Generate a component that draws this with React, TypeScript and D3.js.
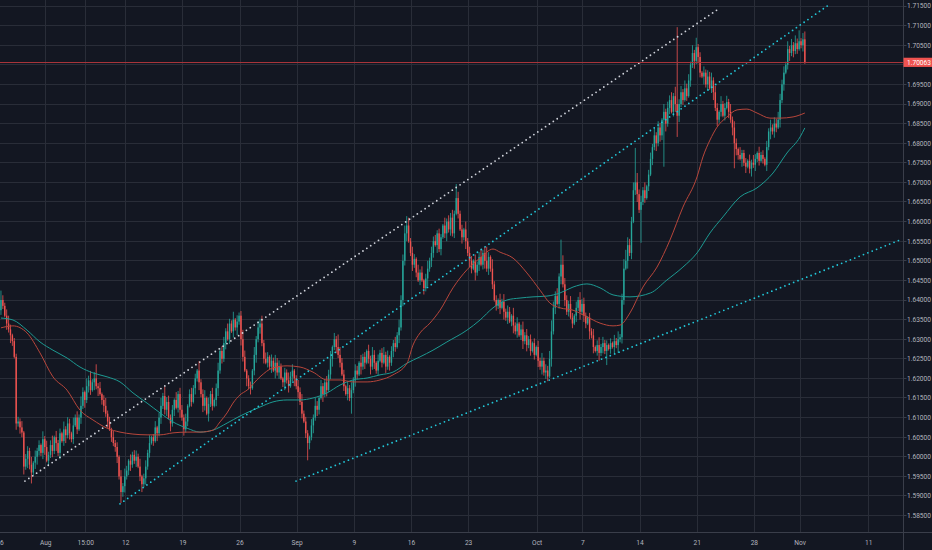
import { useEffect, useRef } from 'react';
import * as d3 from 'd3';

const W = 932;
const H = 550;

// 4h closes, pips (0.0001) above 1.5800, ten candles per row
const closePips = [
  600, 585, 560, 540, 525, 510, 495, 455, 285, 290,
  275, 262, 175, 195, 215, 180, 160, 185, 200, 215,
  230, 210, 245, 225, 190, 205, 230, 215, 250, 235,
  210, 260, 240, 270, 255, 285, 260, 245, 280, 300,
  270, 300, 330, 365, 345, 380, 395, 370, 390, 400,
  380, 375, 360, 345, 330, 310, 290, 270, 250, 235,
  225, 200, 150, 110, 125, 150, 165, 190, 180, 205,
  190, 200, 175, 150, 130, 145, 175, 210, 235, 250,
  240, 275, 260, 300, 330, 355, 320, 340, 300, 285,
  320, 345, 325, 360, 320, 300, 270, 290, 330, 360,
  340, 375, 400, 420, 390, 360, 330, 350, 310, 335,
  360, 330, 345, 375, 420, 470, 450, 490, 520, 500,
  540, 520, 550, 530, 545, 560, 500, 455, 420, 400,
  380, 375, 420, 460, 500, 530, 540, 490, 450, 440,
  455, 430, 445, 420, 440, 415, 430, 400, 390, 415,
  395, 380, 405, 420, 400, 380, 365, 340, 310, 290,
  260, 235, 250, 280, 300, 330, 320, 350, 380, 360,
  390, 370, 410, 450, 480, 500, 480, 460, 440, 410,
  380, 360, 375, 350, 370, 395, 420, 410, 440, 430,
  455, 440, 470, 450, 430, 460, 440, 420, 445, 465,
  440, 460, 430, 455, 440, 470, 490, 480, 510, 530,
  600, 700, 770, 790, 750, 720, 690, 705, 670, 650,
  670, 650, 630, 655, 680, 700, 720, 750, 740, 770,
  730, 760, 790, 770, 800, 780, 810, 770, 820, 860,
  820, 780, 760, 780, 750, 720, 700, 680, 700, 670,
  690, 710, 690, 720, 700, 680, 710, 680, 640, 600,
  585, 600, 580, 595, 570, 555, 570, 545, 560, 535,
  520, 540, 510, 525, 495, 510, 485, 500, 470, 490,
  460, 480, 445, 430, 445, 415, 420, 405, 450, 520,
  580, 610, 590, 660, 690, 640, 600, 570, 590, 555,
  540, 560, 580, 600, 570, 590, 560, 540, 555, 520,
  510, 480, 470, 485, 465, 480, 490, 470, 485, 475,
  490, 480, 495, 485, 500, 505, 600, 680, 700, 740,
  720, 800, 880, 900, 870, 830, 850, 880, 860, 890,
  920, 960, 990, 1020, 1000, 1040, 1020, 1060, 1080, 1050,
  1090, 1110, 1080, 1120, 1100, 1070, 1100, 1130, 1110, 1140,
  1120, 1160, 1200, 1230, 1210, 1245, 1220, 1180, 1170, 1180,
  1150, 1170, 1140, 1160, 1130, 1090, 1060, 1080, 1100, 1070,
  1090, 1105, 1080, 1060, 1040, 1000, 985, 970, 960, 975,
  950, 940, 955, 935, 950, 945, 960, 975, 955, 970,
  960, 945, 990, 1030, 1040, 1030, 1050, 1040, 1060, 1110,
  1150, 1180, 1200, 1240, 1230, 1250, 1235, 1255, 1240, 1260,
  1250, 1265, 1206.3,
];
const firstOpenPips = 574;

// wick lengths, one base-36 char per candle, in steps of 4 pips
const upperWicks = [
  '6324531223', '2413325142', '3152423614', '2315243152', '4263153624',
  '9241352314', '2314253142', '3425134251', '2413526342', '3152432513',
  '4231623514', '2413523425', '3251423641', '2315243524', '3142534213',
  '2534124352', '3214253142', '2435142853', '3142524315', '2314253142',
  '3524132425', '3456524315', '2413524342', '3215243529', '4231524314',
  '2352493162', '3142524315', '2413524231', '3142524357', '4352g64325',
  '3142534213', '2413524231', '3142524675', '435m634251', '3425243152',
  '4352603425', '3425262314', '2435243152', '3425243152', '2314253142',
  '3142524354', '3425242537', '245',
].join('');
const lowerWicks = [
  '3214253142', '4352637245', '3245132425', '2413524231', '3142524315',
  '2513424132', '3427342342', '2413524231', '3152423415', '2413524231',
  '3142524315', '2314523241', '3142524315', '2413524231', '3241524135',
  '2413524231', '3b42524315', '2413524231', '3142a24315', '2413524231',
  '3142524315', '2435124231', '3142524315', '2413524231', '3142524315',
  '2413524231', '3241524135', '2413524231', '3142524315', '2413524231',
  '3142524315', '2413524291', '3142524315', '241352l231', '31425243u5',
  '2413524231', '3142524315', '2413524231', '31425g4315', '2413524231',
  '3142524315', '2413524231', '241',
].join('');
// [candle, high, low] in pips, for wicks too long for the strings
const spikes = [[355, 1296, 1016]];

// moving averages: candle index and pips
const fastMaIdx = [0, 6.3, 13.7, 20.5, 27.3, 34.7, 41.5, 48.3, 55.7, 62.5, 69.3, 76.7, 83.5, 90.3, 97.7, 104.5, 111.3, 115, 118.7, 121.8, 125.5, 129.2, 136, 142.8, 150.2, 157, 163.8, 171.2, 178, 184.8, 192.2, 199, 205.8, 213.2, 216.3, 220, 225.2, 230.5, 237.3, 244.6, 251.5, 258.3, 262, 268.8, 276.1, 283, 288.2, 293.5, 300.3, 307.6, 314.5, 321.3, 325, 330.2, 337, 344.4, 351.2, 358, 365.4, 368.5, 372.2, 375.9, 381.1, 386.4, 391.6, 396.9, 403.7, 409, 415.8, 422];
const fastMaPips = [529, 534, 516, 465, 404, 370, 319, 294, 273, 263, 258, 256, 256, 261, 263, 263, 268, 289, 312, 337, 358, 370, 404, 427, 432, 429, 416, 396, 396, 391, 391, 396, 409, 439, 485, 516, 541, 574, 631, 677, 707, 730, 722, 707, 669, 625, 592, 580, 574, 557, 541, 534, 536, 567, 633, 684, 753, 837, 914, 965, 1008, 1041, 1067, 1085, 1087, 1077, 1064, 1064, 1067, 1077];
const slowMaIdx = [0, 6.3, 13.7, 20.5, 27.3, 34.7, 41.5, 48.3, 55.7, 62.5, 69.3, 76.7, 83.5, 90.3, 97.7, 104.5, 111.3, 118.7, 125.5, 136, 142.8, 150.2, 157, 163.8, 171.2, 178, 184.8, 192.2, 199, 205.8, 213.2, 220, 226.8, 234.1, 244.6, 251.5, 258.3, 265.6, 272.5, 279.3, 286.6, 293.5, 300.3, 307.6, 314.5, 321.3, 330.2, 341, 349.6, 358, 365.4, 372.2, 379, 388, 396.9, 405.3, 412.6, 419.5, 422];
const slowMaPips = [554, 549, 523, 493, 472, 452, 429, 414, 404, 391, 363, 337, 312, 289, 273, 263, 268, 286, 304, 327, 340, 345, 345, 350, 363, 383, 396, 401, 409, 416, 439, 455, 472, 493, 523, 549, 580, 600, 605, 608, 610, 618, 633, 641, 631, 613, 608, 618, 651, 684, 720, 771, 812, 863, 886, 924, 975, 1016, 1039];

// drawn trend lines: [candle index, pips] at each end
const trendStart = [[12.6, 138], [62.5, 80], [154.9, 138]];
const trendEnd = [[375.9, 1340], [435.2, 1355], [471.9, 753]];

const timeTickIdx = [0, 24, 45, 66, 96, 126, 156, 186, 216, 246, 282, 306, 336, 366, 396, 420, 456];
const timeLabels = ['26', 'Aug', '15:00', '12', '19', '26', 'Sep', '9', '16', '23', 'Oct', '7', '14', '21', '28', 'Nov', '11'];
const priceTicks = [1.585, 1.59, 1.595, 1.6, 1.605, 1.61, 1.615, 1.62, 1.625, 1.63, 1.635, 1.64, 1.645, 1.65, 1.655, 1.66, 1.665, 1.67, 1.675, 1.68, 1.685, 1.69, 1.695, 1.7, 1.705, 1.71, 1.715];
const lastPrice = 1.70063;

const fromPips = (p: number) => 1.58 + p / 10000;

export default function App() {
  const ref = useRef<SVGSVGElement>(null);

  useEffect(() => {
    if (!ref.current) return;
    const svg = d3.select(ref.current);
    svg.selectAll('*').remove();

    const plotRight = 903.5;
    const plotBottom = 532.5;
    const font = 'Roboto, "Noto Sans", sans-serif';

    const x = d3.scaleLinear().domain([0, 423]).range([0, 805.8]);
    const y = d3.scaleLinear().domain([1.585, 1.715]).range([515.6, 6]);
    const crisp = (v: number) => Math.round(v - 0.5) + 0.5;

    svg.append('rect').attr('width', W).attr('height', H).attr('fill', '#131722');

    const plot = svg.append('g');
    plot.append('clipPath').attr('id', 'plot-clip')
      .append('rect').attr('width', plotRight).attr('height', plotBottom);
    const clipped = plot.append('g').attr('clip-path', 'url(#plot-clip)');

    // grid
    const grid = clipped.append('g').attr('stroke', '#292d38').attr('stroke-width', 1);
    priceTicks.forEach((p) => {
      grid.append('line').attr('x1', 0).attr('x2', plotRight)
        .attr('y1', crisp(y(p))).attr('y2', crisp(y(p)));
    });
    timeTickIdx.forEach((t) => {
      if (t === 0) return;
      grid.append('line').attr('y1', 0).attr('y2', plotBottom)
        .attr('x1', crisp(x(t))).attr('x2', crisp(x(t)));
    });

    // candles
    const candles = closePips.map((c, i) => {
      const o = i === 0 ? firstOpenPips : closePips[i - 1];
      let hi = Math.max(o, c) + parseInt(upperWicks[i] ?? '1', 36) * 4;
      let lo = Math.min(o, c) - parseInt(lowerWicks[i] ?? '1', 36) * 4;
      const s = spikes.find((d) => d[0] === i);
      if (s) { hi = s[1]; lo = s[2]; }
      return { i, o: fromPips(o), c: fromPips(c), h: fromPips(hi), l: fromPips(lo) };
    });
    const up = '#26a69a';
    const down = '#ef5350';
    const cg = clipped.append('g');
    cg.selectAll('line.wick').data(candles).enter().append('line')
      .attr('class', 'wick')
      .attr('x1', (d) => x(d.i + 0.5)).attr('x2', (d) => x(d.i + 0.5))
      .attr('y1', (d) => y(d.h)).attr('y2', (d) => y(d.l))
      .attr('stroke', (d) => (d.c >= d.o ? up : down))
      .attr('stroke-width', 0.8);
    cg.selectAll('rect.body').data(candles).enter().append('rect')
      .attr('class', 'body')
      .attr('x', (d) => x(d.i + 0.5) - 0.7)
      .attr('width', 1.4)
      .attr('y', (d) => y(Math.max(d.o, d.c)))
      .attr('height', (d) => Math.max(0.8, Math.abs(y(d.o) - y(d.c))))
      .attr('fill', (d) => (d.c >= d.o ? up : down));

    // moving averages
    const maLine = d3.line<[number, number]>()
      .x((d) => x(d[0] + 0.5))
      .y((d) => y(fromPips(d[1])))
      .curve(d3.curveMonotoneX);
    clipped.append('path')
      .attr('d', maLine(slowMaIdx.map((t, k) => [t, slowMaPips[k]] as [number, number])))
      .attr('fill', 'none').attr('stroke', '#1d9a92').attr('stroke-width', 1);
    clipped.append('path')
      .attr('d', maLine(fastMaIdx.map((t, k) => [t, fastMaPips[k]] as [number, number])))
      .attr('fill', 'none').attr('stroke', '#b8463b').attr('stroke-width', 1);

    // dotted trend lines
    const trendColors = ['#d1d4dc', '#22c7d8', '#22c7d8'];
    trendStart.forEach((a, k) => {
      const b = trendEnd[k];
      clipped.append('line')
        .attr('x1', x(a[0] + 0.5)).attr('y1', y(fromPips(a[1])))
        .attr('x2', x(b[0] + 0.5)).attr('y2', y(fromPips(b[1])))
        .attr('stroke', trendColors[k])
        .attr('stroke-width', 1.8)
        .attr('stroke-linecap', 'round')
        .attr('stroke-dasharray', '0 4.7');
    });

    // last price line
    clipped.append('line')
      .attr('x1', 0).attr('x2', plotRight)
      .attr('y1', crisp(y(lastPrice))).attr('y2', crisp(y(lastPrice)))
      .attr('stroke', '#a8343a').attr('stroke-width', 1);

    // axes
    const axisColor = '#3a3e4a';
    svg.append('line').attr('x1', plotRight).attr('x2', plotRight).attr('y1', 0).attr('y2', H)
      .attr('stroke', axisColor);
    svg.append('line').attr('x1', 0).attr('x2', W).attr('y1', plotBottom).attr('y2', plotBottom)
      .attr('stroke', axisColor);

    const fmt = d3.format('.5f');
    const yLast = y(lastPrice);
    priceTicks.forEach((p) => {
      const yy = y(p);
      svg.append('line').attr('x1', plotRight).attr('x2', plotRight + 3)
        .attr('y1', crisp(yy)).attr('y2', crisp(yy)).attr('stroke', axisColor);
      if (Math.abs(yy - yLast) < 8) return;
      svg.append('text').attr('x', 907).attr('y', yy).attr('dy', '0.35em')
        .attr('fill', '#b2b5be').attr('font-family', font).attr('font-size', 6.6)
        .text(fmt(p));
    });

    svg.append('rect').attr('x', plotRight).attr('y', yLast - 4.6)
      .attr('width', W - plotRight).attr('height', 9.2).attr('fill', '#ef5350');
    svg.append('text').attr('x', 907).attr('y', yLast).attr('dy', '0.35em')
      .attr('fill', '#ffffff').attr('font-family', font).attr('font-size', 6.6)
      .text(fmt(lastPrice));

    timeTickIdx.forEach((t, k) => {
      svg.append('text').attr('x', x(t)).attr('y', 545)
        .attr('text-anchor', 'middle')
        .attr('fill', '#b2b5be').attr('font-family', font).attr('font-size', 6.6)
        .text(timeLabels[k]);
    });
  }, []);

  return (
    <svg
      ref={ref}
      width={W}
      height={H}
      style={{ position: 'absolute', left: 0, top: 0, display: 'block' }}
      role="img"
      aria-label="4h candlestick chart with moving averages and trend lines"
    />
  );
}
